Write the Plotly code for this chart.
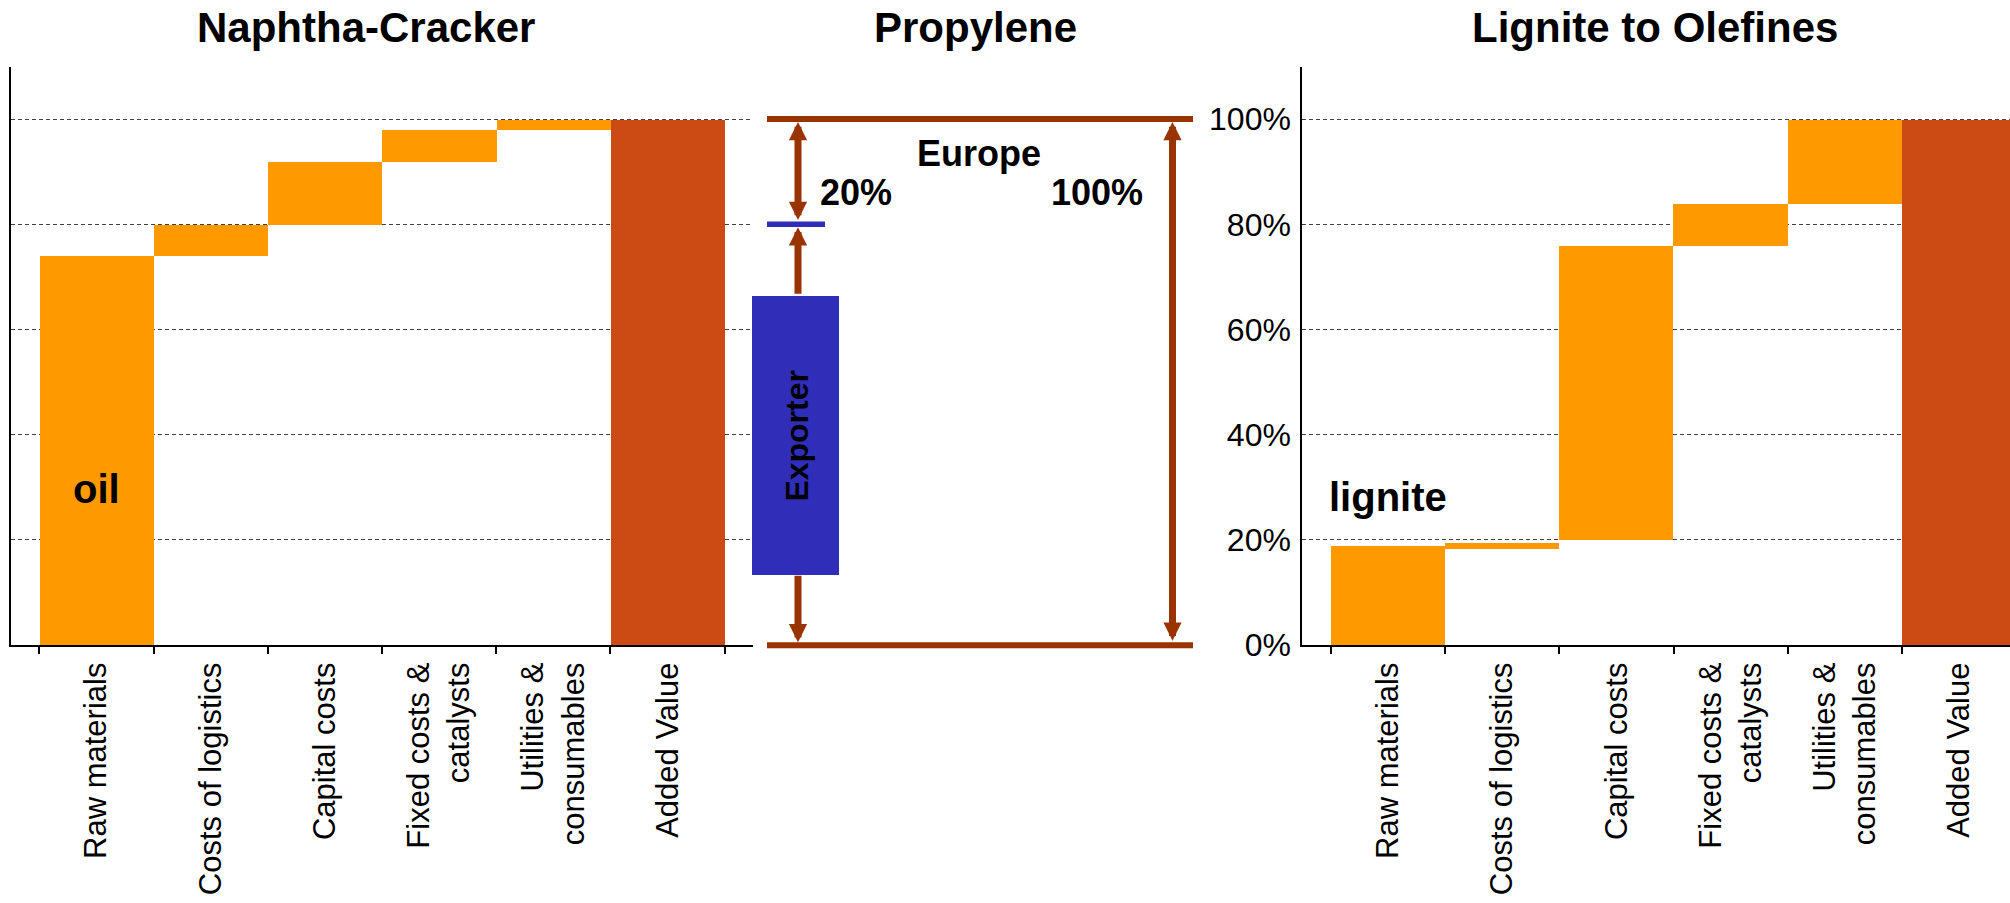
import plotly.graph_objects as go

# ---- data -------------------------------------------------------------
categories = [
    "Raw materials",
    "Costs of logistics",
    "Capital costs",
    "Fixed costs &<br>catalysts",
    "Utilities &<br>consumables",
    "Added Value",
]

# Naphtha cracker cost build-up (% of product price): bar bottom and height
naphtha_base = [0, 74, 80, 92, 98, 0]
naphtha_share = [74, 6, 12, 6, 2, 100]

# Lignite-to-olefines cost build-up (% of product price)
lignite_base = [0, 18.4, 20, 76, 84, 0]
lignite_share = [19, 1.1, 56, 8, 16, 100]

# Propylene price comparison (% of European price)
europe_price = 100
exporter_price = 80
exporter_cost_low = 13.5
exporter_cost_high = 66.5

percent_ticks = [0, 20, 40, 60, 80, 100]
percent_labels = [f"{v}%" for v in percent_ticks]

# ---- style ------------------------------------------------------------
W, H = 2010, 903
FONT = "Liberation Sans, Arial, sans-serif"
ORANGE = "#FF9900"
RUST = "#CC4A14"
BROWN = "#993300"
BLUE = "#302DB9"
GRID = "#404040"

bar_colors = [ORANGE] * 5 + [RUST]


def px(x):
    return x / W


def py(y):
    return 1 - y / H


PLOT_TOP, PLOT_BOTTOM = 66.5, 645.2
y_dom = [py(PLOT_BOTTOM), py(PLOT_TOP)]
Y_RANGE = [0, 110]
unit_px = (PLOT_BOTTOM - PLOT_TOP) / 110.0  # pixels per percentage point

fig = go.Figure()

fig.add_trace(go.Bar(
    x=categories, y=naphtha_share, base=naphtha_base, width=1,
    marker=dict(color=bar_colors, line=dict(width=0)),
    xaxis="x", yaxis="y", showlegend=False, hoverinfo="skip",
))
fig.add_trace(go.Bar(
    x=categories, y=lignite_share, base=lignite_base, width=1,
    marker=dict(color=bar_colors, line=dict(width=0)),
    xaxis="x2", yaxis="y2", showlegend=False, hoverinfo="skip",
))

# middle panel: exporter cost range drawn as a floating bar
mid_left, mid_right = 752, 1302
mid_pad = 6  # extra room below 0 so the base line is not clipped
box_x0, box_x1 = 0.3, 87.3
fig.add_trace(go.Bar(
    x=[(box_x0 + box_x1) / 2], y=[exporter_cost_high - exporter_cost_low],
    base=[exporter_cost_low], width=[box_x1 - box_x0],
    marker=dict(color=BLUE, line=dict(width=0)),
    xaxis="x3", yaxis="y3", showlegend=False, hoverinfo="skip",
))

cat_axis = dict(
    type="category",
    showline=True, linecolor="black", linewidth=2,
    ticks="outside", tickson="boundaries", ticklen=7, tickwidth=2, tickcolor="black",
    tickangle=-90, ticklabelstandoff=3,
    tickfont=dict(family=FONT, size=31, color="black"),
    showgrid=False, zeroline=False, fixedrange=True, automargin=False,
)
pct_axis = dict(
    range=Y_RANGE, domain=y_dom,
    showline=True, linecolor="black", linewidth=2,
    tickmode="array", tickvals=percent_ticks, ticktext=percent_labels,
    ticks="",
    showgrid=True, gridcolor=GRID, gridwidth=1.2, griddash="4px,3px",
    zeroline=False, fixedrange=True, automargin=False,
    tickfont=dict(family=FONT, size=32, color="black"),
)

fig.update_layout(
    width=W, height=H,
    margin=dict(l=0, r=0, t=0, b=0, pad=0, autoexpand=False),
    paper_bgcolor="white", plot_bgcolor="rgba(0,0,0,0)",
    barmode="overlay", bargap=0,
    font=dict(family=FONT, color="black"),
    xaxis=dict(cat_axis, domain=[px(10.7), px(752.6)], range=[-0.75, 5.744], anchor="y"),
    yaxis=dict(pct_axis, anchor="x", showticklabels=False),
    xaxis2=dict(cat_axis, domain=[px(1302.3), 1.0], range=[-0.75, 5.444], anchor="y2"),
    yaxis2=dict(pct_axis, anchor="x2", showticklabels=True, ticklabelstandoff=3),
    xaxis3=dict(domain=[px(mid_left), px(mid_right)], range=[0, mid_right - mid_left],
                visible=False, anchor="y3", fixedrange=True, automargin=False),
    yaxis3=dict(domain=[py(PLOT_BOTTOM + mid_pad * unit_px), py(PLOT_TOP)],
                range=[-mid_pad, Y_RANGE[1]],
                visible=False, anchor="x3", fixedrange=True, automargin=False),
)

# ---- middle panel lines and arrows ------------------------------------
line_x0, line_x1 = 15, 441
arrow_x_left, arrow_x_right = 46, 420.5
half = 0.55  # half thickness of the price lines, in percentage points

shapes = [
    dict(type="line", xref="x3", yref="y3", x0=line_x0, x1=line_x1,
         y0=europe_price, y1=europe_price, line=dict(color=BROWN, width=6)),
    dict(type="line", xref="x3", yref="y3", x0=line_x0, x1=line_x1,
         y0=0, y1=0, line=dict(color=BROWN, width=6)),
    dict(type="line", xref="x3", yref="y3", x0=line_x0, x1=73,
         y0=exporter_price, y1=exporter_price, line=dict(color=BLUE, width=5.5)),
]
fig.update_layout(shapes=shapes)


def arrow(x, y_tip, y_from, both=False):
    return dict(
        xref="x3", yref="y3", axref="x3", ayref="y3",
        x=x, y=y_tip, ax=x, ay=y_from, text="",
        font=dict(size=1),
        showarrow=True, arrowhead=2, arrowsize=0.52, arrowwidth=7,
        startarrowhead=2, startarrowsize=0.52,
        arrowcolor=BROWN, standoff=0, startstandoff=0,
        arrowside="end+start" if both else "end",
    )


annotations = [
    arrow(arrow_x_left, europe_price - half, exporter_price + half, both=True),
    arrow(arrow_x_left, exporter_price - half, exporter_cost_high),
    arrow(arrow_x_left, 0 + half, exporter_cost_low),
    arrow(arrow_x_right, europe_price - half, 0 + half, both=True),
]

bold = dict(family=FONT, color="black")

annotations += [
    dict(xref="x3", yref="y3", x=227, y=93.5, text="<b>Europe</b>",
         showarrow=False, font=dict(bold, size=36)),
    dict(xref="x3", yref="y3", x=104, y=86.1,
         text=f"<b>{europe_price - exporter_price:.0f}%</b>",
         showarrow=False, font=dict(bold, size=36)),
    dict(xref="x3", yref="y3", x=345, y=86.1, text=f"<b>{europe_price:.0f}%</b>",
         showarrow=False, font=dict(bold, size=36)),
    dict(xref="x3", yref="y3", x=44.8,
         y=(exporter_cost_low + exporter_cost_high) / 2 - 0.2,
         text="<b>Exporter</b>", textangle=-90,
         showarrow=False, font=dict(bold, size=32)),
    dict(xref="x", yref="y", x=0, y=29.7, text="<b>oil</b>",
         showarrow=False, font=dict(bold, size=40)),
    dict(xref="x2", yref="y2", x=0, y=28.2, text="<b>lignite</b>",
         showarrow=False, font=dict(bold, size=40)),
]

# panel titles
for label, cx in [("Naphtha-Cracker", 366), ("Propylene", 975), ("Lignite to Olefines", 1655)]:
    annotations.append(dict(
        xref="paper", yref="paper", x=px(cx), y=py(27.5),
        xanchor="center", yanchor="middle",
        text=f"<b>{label}</b>", showarrow=False, font=dict(bold, size=42),
    ))

fig.update_layout(annotations=annotations)

fig.write_html("out.html")
